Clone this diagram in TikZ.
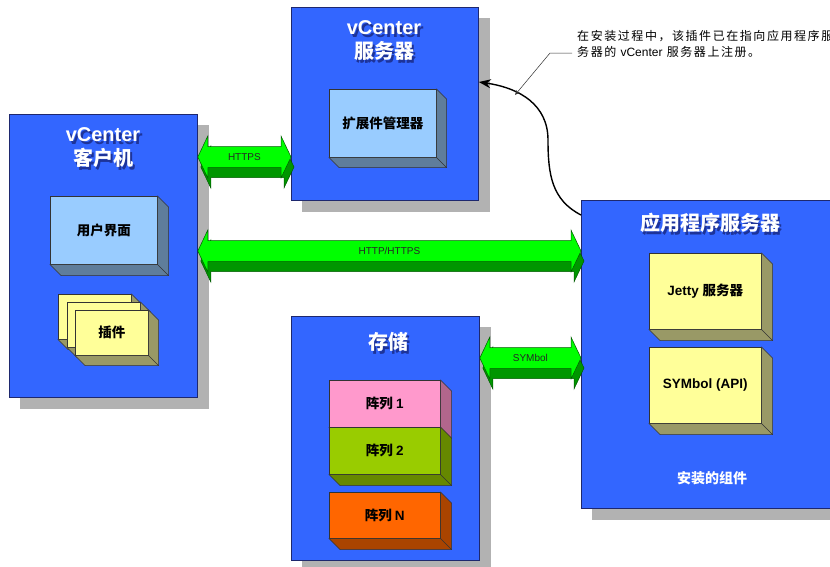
\documentclass[tikz,border=0pt]{standalone}
\usepackage{fontspec}
\setmainfont{Liberation Sans}
\newfontfamily\cjk{Noto Sans CJK SC}
\newfontfamily\cjknote{Noto Sans CJK SC}[LetterSpace=13]
\usetikzlibrary{calc,backgrounds,arrows.meta}

\definecolor{panelblue}{RGB}{51,102,255}
\definecolor{paneledge}{RGB}{30,40,110}
\definecolor{panelshade}{RGB}{178,178,178}
\definecolor{titleshade}{RGB}{20,30,110}
\definecolor{skyface}{RGB}{153,204,255}
\definecolor{skyside}{RGB}{95,125,155}
\definecolor{paperface}{RGB}{255,255,153}
\definecolor{paperside}{RGB}{153,153,102}
\definecolor{pinkface}{RGB}{255,153,204}
\definecolor{pinkside}{RGB}{178,102,140}
\definecolor{limeface}{RGB}{153,204,0}
\definecolor{limeside}{RGB}{102,136,0}
\definecolor{orangeface}{RGB}{255,102,0}
\definecolor{orangeside}{RGB}{170,68,0}
\definecolor{linklight}{RGB}{0,255,0}
\definecolor{linkdark}{RGB}{0,150,0}
\definecolor{linkedge}{RGB}{0,90,0}

\tikzset{
  panel/.style={draw=paneledge, fill=panelblue, line width=0.8pt, anchor=north west, inner sep=0pt},
  ptitle/.style={text=white, font=\bfseries\fontsize{20}{24}\selectfont, align=center, inner sep=0pt},
  ptitleshade/.style={ptitle, text=titleshade, opacity=0.7},
  cube/.style={draw=black!80, line width=0.5pt, anchor=north west, inner sep=0pt, font=\bfseries\fontsize{13.5}{16}\selectfont},
  linkface/.style={fill=linklight, draw=linkedge, line width=0.5pt},
  linkshade/.style={fill=linkdark, draw=linkedge, line width=0.5pt},
  linklabel/.style={font=\fontsize{10}{12}\selectfont, text=black!85, inner sep=0pt}
}

% side and bottom faces of a box node
\newcommand{\extrude}[3]{%
  \filldraw[fill=#2, draw=black!80, line width=0.5pt] (#1.north east) -- ($(#1.north east)+(#3,#3)$) -- ($(#1.south east)+(#3,#3)$) -- ($(#1.south west)+(#3,#3)$) -- (#1.south west) -- (#1.south east) -- cycle;
  \draw[black!80, line width=0.5pt] (#1.south east) -- ($(#1.south east)+(#3,#3)$);}

% outline of a two headed block arrow between two tips
\newcommand{\arrowpath}[3][]{%
  \filldraw[#1] (#2) -- ++(10,-21) -- ++(0,10.5) -- ($(#3)+(-10,-10.5)$) -- ++(0,-10.5) -- (#3) -- ++(-10,21) -- ++(0,-10.5) -- ($(#2)+(10,10.5)$) -- ++(0,10.5) -- cycle;}

\newcommand{\linkarrow}[4]{%
  \coordinate (#4-dl) at ($(#1)+(3,10)$);
  \coordinate (#4-dr) at ($(#2)+(3,10)$);
  \arrowpath[linkshade]{#4-dl}{#4-dr}
  \arrowpath[linkface]{#1}{#2}
  \node[linklabel] (#4) at ($(#1)!0.5!(#2)$) {#3};}

\begin{document}
\begin{tikzpicture}[x=1pt,y=1pt,yscale=-1,xscale=1]
\useasboundingbox (0,0) rectangle (830,566);

%Shape: Rectangle (panels)
\node[panel, minimum width=188pt, minimum height=283pt] (client) at (9,114) {};
\node[panel, minimum width=187pt, minimum height=193pt] (vcs) at (291,7) {};
\node[panel, minimum width=260pt, minimum height=308pt] (app) at (581,200) {};
\node[panel, minimum width=188pt, minimum height=244pt] (store) at (291,316) {};
\begin{scope}[on background layer]
  \foreach \p in {client,vcs,app,store}
    \fill[panelshade] ($(\p.north west)+(11,11)$) rectangle ($(\p.south east)+(11,11)$);
\end{scope}

% Text Node (panel titles)
\node[ptitleshade] (clienttitle-s) at (105.5,151) {vCenter\\\cjk 客户机};
\node[ptitle] (clienttitle) at (103,148) {vCenter\\\cjk 客户机};
\node[ptitleshade] (vcstitle-s) at (386.5,43) {vCenter\\\cjk 服务器};
\node[ptitle] (vcstitle) at (384,40) {vCenter\\\cjk 服务器};
\node[ptitleshade] (apptitle-s) at (712.5,226) {\cjk 应用程序服务器};
\node[ptitle] (apptitle) at (710,223) {\cjk 应用程序服务器};
\node[ptitleshade] (storetitle-s) at (390.5,345) {\cjk 存储};
\node[ptitle] (storetitle) at (388,342) {\cjk 存储};

%Shape: Box
\node[cube, fill=skyface, minimum width=107pt, minimum height=68pt] (extmgr) at (329,89) {\cjk 扩展件管理器};
\extrude{extmgr}{skyside}{10}
\node[cube, fill=skyface, minimum width=107pt, minimum height=68pt] (ui) at (50,196) {\cjk 用户界面};
\extrude{ui}{skyside}{11}
\node[cube, fill=paperface, minimum width=73pt, minimum height=45pt] (plugin-a) at (58,294) {};
\extrude{plugin-a}{paperside}{10}
\node[cube, fill=paperface, minimum width=73pt, minimum height=45pt] (plugin-b) at (67,302) {};
\extrude{plugin-b}{paperside}{10}
\node[cube, fill=paperface, minimum width=73pt, minimum height=45pt] (plugin) at (75,310) {\cjk 插件};
\extrude{plugin}{paperside}{10}

\node[cube, fill=pinkface, minimum width=111pt, minimum height=47pt] (arr1) at (329,380) {\cjk 阵列 \rmfamily 1};
\extrude{arr1}{pinkside}{11}
\node[cube, fill=limeface, minimum width=111pt, minimum height=47pt] (arr2) at (329,427) {\cjk 阵列 \rmfamily 2};
\extrude{arr2}{limeside}{11}
\node[cube, fill=orangeface, minimum width=111pt, minimum height=46pt] (arrn) at (329,492) {\cjk 阵列 \rmfamily N};
\extrude{arrn}{orangeside}{11}

\node[cube, fill=paperface, minimum width=112pt, minimum height=76pt] (jetty) at (649,253) {Jetty {\cjk 服务器}};
\extrude{jetty}{paperside}{11}
\node[cube, fill=paperface, minimum width=112pt, minimum height=76pt] (symapi) at (649,347) {SYMbol (API)};
\extrude{symapi}{paperside}{11}

% Text Node
\node[text=white, font=\bfseries\fontsize{14}{16}\selectfont\cjk, inner sep=0pt] (installed) at (712,478) {安装的组件};

%Block arrows
\linkarrow{client.east |- 0,157}{vcs.west |- 0,157}{HTTPS}{https}
\linkarrow{client.east |- 0,251}{app.west |- 0,251}{HTTP/HTTPS}{http}
\linkarrow{store.east |- 0,358}{app.west |- 0,358}{SYMbol}{sym}

%Curve Lines
\draw[line width=1.4pt, -{Stealth[length=12pt,width=9pt]}] ($(app.north west)+(0,15)$) .. controls (552,200) and (548,175) .. (548,140) .. controls (548,105) and (520,88) .. ($(vcs.north east)+(0,75)$);

% Text Node (note)
\node[anchor=north west, font=\fontsize{12}{16}\selectfont\cjknote, align=left, inner sep=0pt] (note) at (577,30) {在安装过程中，该插件已在指向应用程序服\\务器的 {\rmfamily vCenter} 服务器上注册。};
\coordinate (lead0) at (572,53);
\coordinate (lead1) at (550,53);
\coordinate (lead2) at (515,95);
\draw[black!80, line width=0.5pt, -{Stealth[length=5pt,width=4pt]}] (lead0) -- (lead1) -- (lead2);

\end{tikzpicture}
\end{document}
